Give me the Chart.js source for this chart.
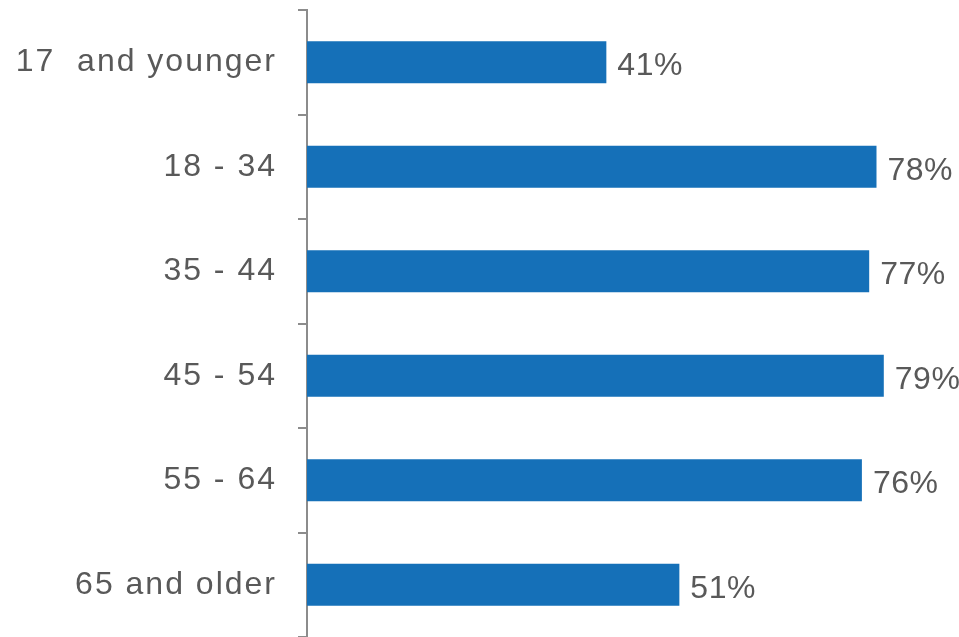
<!DOCTYPE html>
<html>
<head>
<meta charset="utf-8">
<script src="https://cdn.jsdelivr.net/npm/chart.js@4"></script>
<style>
  html, body { margin: 0; padding: 0; background: #fff; }
  #wrap { width: 959px; height: 637px; position: relative; }
</style>
</head>
<body>
<div id="wrap"><canvas id="ageChart"></canvas></div>
<script>
const ageGroups = ["17  and younger", "18 - 34", "35 - 44", "45 - 54", "55 - 64", "65 and older"];
const shareValues = [41, 78, 77, 79, 76, 51];

const textGray = "#595959";
const barBlue = "#1570b8";
const fontStack = "'Liberation Sans', Arial, sans-serif";

// wider letter spacing, the original font is a wide one
const spacing = {
  id: "spacing",
  beforeDraw(chart) { chart.ctx.letterSpacing = "2px"; },
  beforeDatasetsDraw(chart) { chart.ctx.letterSpacing = "0px"; }
};

// draws the "41%" style labels just right of each bar
const valueLabels = {
  id: "valueLabels",
  afterDatasetsDraw(chart) {
    const ctx = chart.ctx;
    const meta = chart.getDatasetMeta(0);
    ctx.save();
    ctx.letterSpacing = "0.5px";
    ctx.font = "32px " + fontStack;
    ctx.fillStyle = textGray;
    ctx.textAlign = "left";
    ctx.textBaseline = "middle";
    meta.data.forEach((bar, i) => {
      ctx.fillText(shareValues[i] + "%", bar.x + 11, bar.y + 4);
    });
    ctx.restore();
  }
};

new Chart(document.getElementById("ageChart").getContext("2d"), {
  type: "bar",
  data: {
    labels: ageGroups,
    datasets: [{
      data: shareValues,
      backgroundColor: barBlue,
      borderWidth: 0,
      categoryPercentage: 1,
      barPercentage: 0.4
    }]
  },
  options: {
    indexAxis: "y",
    responsive: true,
    maintainAspectRatio: false,
    animation: false,
    layout: { padding: { top: 10, right: 0, bottom: 0, left: 0 } },
    plugins: { legend: { display: false }, tooltip: { enabled: false } },
    scales: {
      x: {
        display: false,
        min: 0,
        max: 89.3
      },
      y: {
        afterFit: function(scale) {
          scale.width = 307;
          scale.paddingTop = 0;
          scale.paddingBottom = 0;
        },
        border: { display: true, color: "#8c8c8c", width: 2 },
        grid: {
          offset: true,
          drawOnChartArea: false,
          drawTicks: true,
          tickLength: 9,
          color: "#8c8c8c",
          lineWidth: 2
        },
        ticks: {
          color: textGray,
          padding: 21,
          font: { family: fontStack, size: 32 }
        }
      }
    }
  },
  plugins: [spacing, valueLabels]
});
</script>
</body>
</html>
